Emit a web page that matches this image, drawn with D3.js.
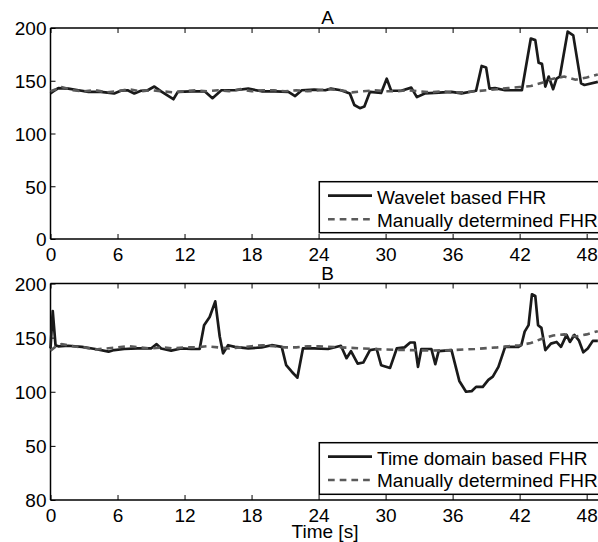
<!DOCTYPE html>
<html><head><meta charset="utf-8">
<script src="https://cdn.jsdelivr.net/npm/d3@7"></script>
<style>body{margin:0;background:#fff}svg{display:block}text{font-family:"Liberation Sans",Arial,sans-serif;fill:#000}</style>
</head><body><svg id="c" width="598" height="542"></svg>
<script>
const xTicks = [0, 6, 12, 18, 24, 30, 36, 42, 48];
const yTicks = [0, 50, 100, 150, 200];
const yTickLabelsA = ["0", "50", "100", "150", "200"];
const yTickLabelsB = ["80", "50", "100", "150", "200"];

const timesA = [0,0.4,0.7,1.6,2.5,3.4,4.5,5.7,6.3,6.9,7.5,8.1,8.7,9.3,9.9,11.0,11.4,12.6,13.8,14.5,15.3,16.5,17.7,18.9,20.1,21.3,21.9,22.5,23.6,24.6,25.1,26.0,26.8,27.2,27.7,28.1,28.6,29.6,30.1,30.5,31.4,32.3,32.8,33.5,34.4,35.9,36.8,38.1,38.6,39.0,39.3,39.8,40.7,42.2,43.0,43.4,43.7,44.0,44.3,44.6,45.0,45.3,45.6,46.3,46.8,47.5,47.8,49.0];
const waveletA = [138,141,143,142.5,141,139.5,139.5,138,140.5,141,138,140.5,141,144.5,140,132.5,139.5,140,140,133.5,141,141,142.5,140,140,139.5,135.5,141,141.5,141,142.5,141,138,127,124,125.5,139.5,138.5,152,140.5,140.5,143.5,134.5,138,138.5,139.5,138,140.5,164,162.5,142.5,143,141,141,190,188.5,167,166,144.5,154,142,152,154,196.5,193,147.5,146,149];

const timesManA = [0,1,2,3,4,5,6,7,8,9,10,11,12,13,14,15,16,17,18,19,20,21,22,23,24,25,26,27,28,29,30,31,32,33,34,35,36,37,38,39,40,41,42,43,44,45,46,47,48,49];
const manualA = [140,144,141,140,141,139,140,142,140,141,140,139,140,141,140,141,140,142,140,141,141,140,141,140,141,142,141,139,140,141,140,140,141,140,139,140,139,139,140,141,142,143,144,145,148,152,154,151,153,156];

const timesB = [0,0.2,0.45,0.7,1.6,2.8,4.0,5.2,5.7,6.6,7.8,9.0,9.5,9.9,10.8,11.7,12.6,13.35,13.75,14.25,14.75,15.15,15.45,15.9,16.5,17.7,18.9,19.8,20.7,21.1,21.6,22.1,22.6,23.6,24.85,26.0,26.5,26.9,27.5,28.0,28.6,29.2,29.6,30.4,31.0,31.7,32.2,32.6,32.9,33.2,34.1,34.45,34.75,35.9,36.6,37.2,37.7,38.1,38.7,39.2,39.6,40.1,40.7,41.9,42.15,42.45,42.8,43.1,43.4,43.65,43.95,44.3,44.8,45.3,45.7,46.2,46.5,46.9,47.3,47.7,48.1,48.55,49.0];
const timeDomainB = [140,174.5,143,142,142.5,141.5,139.5,137,138.5,139.5,140,140,144,140,138,140,139.5,139.5,161.5,169,183.5,151,135.5,143,141.5,140,141,143,141.5,124.5,118.5,113,140,140,139.5,142.5,131,137.5,126,127,138.5,139.5,124.5,122,140,141,145.5,145.5,123,139.5,139.5,125.5,137.5,138.5,110,100,100.5,104.5,104.5,111,114,123,141.5,141.5,143,155.5,161.5,190,188.5,161.5,159,138.5,144.5,146,141.5,152.5,146,152.5,147.5,136.5,140,147,147];

const timesManB = [0,0.5,1,2,3,4,5,6,7,8,9,10,11,12,13,14,15,16,17,18,19,20,21,22,23,24,26,28,30,32,34,36,38,40,41,42,43,44,45,46,47,48,49];
const manualB = [138,142,144,142,141,139,140,141,142,141,140,141,140,141,141,142,141,140,141,142,143,142,141,141,142,142,141,140,139,138.5,138,138.5,139.5,141,142,143,145,149,152,153,151,153,156];

const svg = d3.select("#c");
const FS = 19;

function panel(cfg) {
  const x = d3.scaleLinear().domain([0, 50]).range([50.5, 609]);
  const y = d3.scaleLinear().domain([0, 200]).range([cfg.bottom, cfg.top]);
  const g = svg.append("g");
  g.append("line").attr("x1", x(0)).attr("x2", 610).attr("y1", cfg.top).attr("y2", cfg.top).attr("stroke", "#000").attr("stroke-width", 1.5);
  g.append("line").attr("x1", x(0)).attr("x2", 610).attr("y1", cfg.bottom).attr("y2", cfg.bottom).attr("stroke", "#000").attr("stroke-width", 1.5);
  g.append("line").attr("x1", x(0)).attr("x2", x(0)).attr("y1", cfg.top).attr("y2", cfg.bottom).attr("stroke", "#000").attr("stroke-width", 1.5);
  const xb = g.append("g").attr("transform", `translate(0,${cfg.bottom})`)
    .call(d3.axisBottom(x).tickValues(xTicks).tickSize(-5).tickPadding(9).tickFormat(d3.format("d")));
  xb.select(".domain").remove();
  xb.selectAll("line").attr("stroke-width", 1);
  xb.selectAll("text").attr("font-size", FS).attr("dy", "0.7em");
  const xt = g.append("g").attr("transform", `translate(0,${cfg.top})`)
    .call(d3.axisTop(x).tickValues(xTicks).tickSize(-5).tickFormat(""));
  xt.select(".domain").remove();
  xt.selectAll("line").attr("stroke-width", 1);
  const yl = g.append("g").attr("transform", `translate(${x(0)},0)`)
    .call(d3.axisLeft(y).tickValues(yTicks).tickSize(-5).tickPadding(4).tickFormat((d, i) => cfg.yLabels[i]));
  yl.select(".domain").remove();
  yl.selectAll("line").attr("stroke-width", 1);
  yl.selectAll("text").attr("font-size", FS).attr("dy", "0.36em");
  g.selectAll(".tick text").attr("font-family", '"Liberation Sans",Arial,sans-serif').attr("fill", "#000");

  const line = d3.line().x(d => x(d[0])).y(d => y(d[1]));
  g.append("path").datum(cfg.t1.map((t, i) => [t, cfg.v1[i]]))
    .attr("d", line).attr("fill", "none").attr("stroke", "#1a1a1a").attr("stroke-width", 2.7).attr("stroke-linejoin", "round");
  g.append("path").datum(cfg.t2.map((t, i) => [t, cfg.v2[i]]))
    .attr("d", line).attr("fill", "none").attr("stroke", "#5a5a5a").attr("stroke-width", 2.6).attr("stroke-dasharray", "6.7,5");

  g.append("text").attr("x", 327.5).attr("y", cfg.titleY).attr("text-anchor", "middle").attr("font-size", FS).text(cfg.title);

  const L = cfg.legend;
  g.append("rect").attr("x", 319.3).attr("y", L.top).attr("width", 290).attr("height", L.h)
    .attr("fill", "#fff").attr("stroke", "#000").attr("stroke-width", 1.5);
  g.append("line").attr("x1", 328).attr("x2", 372).attr("y1", L.r1).attr("y2", L.r1).attr("stroke", "#1a1a1a").attr("stroke-width", 2.7);
  g.append("line").attr("x1", 328).attr("x2", 372).attr("y1", L.r2).attr("y2", L.r2).attr("stroke", "#5a5a5a").attr("stroke-width", 2.6).attr("stroke-dasharray", "6.7,5");
  g.append("text").attr("x", 377).attr("y", L.r1 + 8.3).attr("font-size", FS).text(cfg.names[0]);
  g.append("text").attr("x", 377).attr("y", L.r2 + 7.3).attr("font-size", FS).text(cfg.names[1]);
}

panel({top: 28, bottom: 239, yLabels: yTickLabelsA, t1: timesA, v1: waveletA, t2: timesManA, v2: manualA,
  title: "A", titleY: 24, legend: {top: 181.7, h: 51, r1: 195.7, r2: 219.3},
  names: ["Wavelet based FHR", "Manually determined FHR"]});
panel({top: 283.5, bottom: 500, yLabels: yTickLabelsB, t1: timesB, v1: timeDomainB, t2: timesManB, v2: manualB,
  title: "B", titleY: 279.5, legend: {top: 442.7, h: 51.6, r1: 456.7, r2: 480},
  names: ["Time domain based FHR", "Manually determined FHR"]});

svg.append("text").attr("x", 325).attr("y", 538).attr("text-anchor", "middle").attr("font-size", FS).text("Time [s]");
</script></body></html>
